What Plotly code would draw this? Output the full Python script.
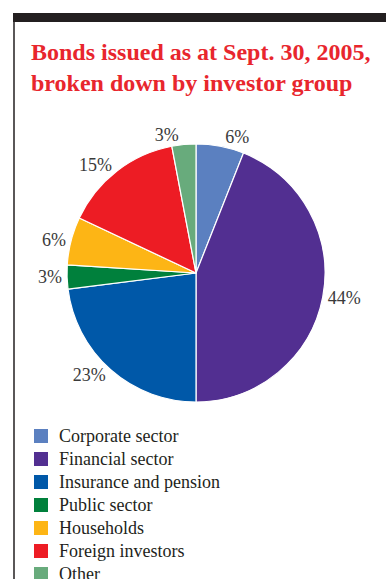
import plotly.graph_objects as go

# Investor groups holding bonds, share of total (%)
groups = [
    "Corporate sector",
    "Financial sector",
    "Insurance and pension",
    "Public sector",
    "Households",
    "Foreign investors",
    "Other",
]
shares = [6, 44, 23, 3, 6, 15, 3]
colors = ["#5b80c0", "#522f91", "#0058a8", "#00803c", "#fdb515", "#ed1c24", "#68ab7c"]

title_text = "Bonds issued as at Sept. 30, 2005,<br>broken down by investor group"

W, H = 386, 579
SERIF = "Liberation Serif"

fig = go.Figure()
fig.add_trace(go.Pie(
    labels=groups,
    values=shares,
    sort=False,
    direction="clockwise",
    rotation=0,
    marker=dict(colors=colors, line=dict(color="white", width=1.2)),
    texttemplate="%{value}%",
    textposition="outside",
    outsidetextfont=dict(family=SERIF, size=18, color="#3a3a3a"),
    hoverinfo="label+percent",
    showlegend=False,
    domain=dict(x=[67 / W, 325 / W], y=[(H - 402) / H, (H - 144) / H]),
))

# Frame: heavy bar across the top, thin rule down the left side
shapes = [
    dict(type="rect", xref="paper", yref="paper", layer="above",
         x0=13 / W, x1=1.0, y0=(H - 22) / H, y1=(H - 13) / H,
         fillcolor="#231f20", line=dict(width=0)),
    dict(type="line", xref="paper", yref="paper", layer="above",
         x0=14 / W, x1=14 / W, y0=0, y1=(H - 22) / H,
         line=dict(color="#231f20", width=1.5)),
]

# Key beneath the pie: colour swatch plus group name
annotations = []
row0, step = 436, 23
for i, (name, col) in enumerate(zip(groups, colors)):
    yc = row0 + i * step
    shapes.append(dict(type="rect", xref="paper", yref="paper",
                       x0=34 / W, x1=48 / W, y0=(H - yc - 7) / H, y1=(H - yc + 7) / H,
                       fillcolor=col, line=dict(width=0)))
    annotations.append(dict(text=name, xref="paper", yref="paper",
                            x=57 / W, y=(H - yc) / H, xanchor="left", yanchor="middle",
                            showarrow=False,
                            font=dict(family=SERIF, size=18, color="#231f20")))

fig.update_layout(
    width=W, height=H,
    margin=dict(l=0, r=0, t=0, b=0),
    paper_bgcolor="white",
    plot_bgcolor="white",
    title=dict(text=title_text, x=31 / W, xanchor="left", xref="paper",
               y=1 - 60 / H, yanchor="top", yref="container",
               font=dict(family=SERIF, size=24, color="#e8262d", weight="bold")),
    shapes=shapes,
    annotations=annotations,
)

fig.write_html("out.html")
